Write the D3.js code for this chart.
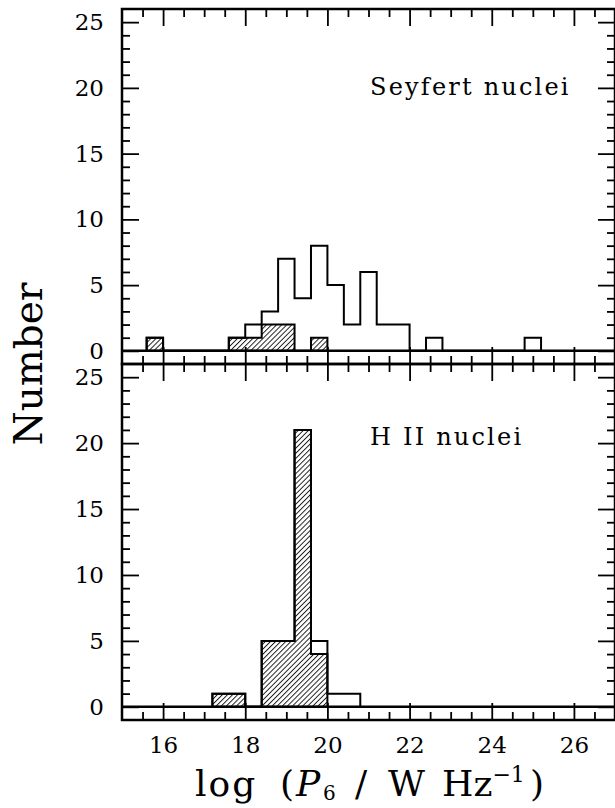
<!DOCTYPE html>
<html>
<head>
<meta charset="utf-8">
<script src="https://cdnjs.cloudflare.com/ajax/libs/d3/7.8.5/d3.min.js"></script>
<style>
  html, body { margin: 0; padding: 0; background: #fff; }
  svg { display: block; }
  text { font-family: "DejaVu Serif", serif; fill: #000; }
</style>
</head>
<body>
<div class="plot"></div>
<script>
// histogram bins: left edge of each 0.4-dex bin and the count in it
const binWidth = 0.4;

const seyfertAllX   = [15.6, 17.6, 18.0, 18.4, 18.8, 19.2, 19.6, 20.0, 20.4, 20.8, 21.2, 21.6, 22.4, 24.8];
const seyfertAllN   = [1,    1,    2,    3,    7,    4,    8,    5,    2,    6,    2,    2,    1,    1];
const seyfertHatchX = [15.6, 17.6, 18.0, 18.4, 18.8, 19.6];
const seyfertHatchN = [1,    1,    1,    2,    2,    1];

const hiiAllX   = [17.2, 17.6, 18.4, 18.8, 19.2, 19.6, 20.0, 20.4];
const hiiAllN   = [1,    1,    5,    5,    21,   5,    1,    1];
const hiiHatchX = [17.2, 17.6, 18.4, 18.8, 19.2, 19.6];
const hiiHatchN = [1,    1,    5,    5,    21,   4];

const xMajorTicks = [16, 18, 20, 22, 24, 26];
const xMinorTicks = [15.5, 16.5, 17, 17.5, 18.5, 19, 19.5, 20.5, 21, 21.5, 22.5, 23, 23.5, 24.5, 25, 25.5, 26.5];
const yMajorTicks = [0, 5, 10, 15, 20, 25];
const yMinorTicks = [1, 2, 3, 4, 6, 7, 8, 9, 11, 12, 13, 14, 16, 17, 18, 19, 21, 22, 23, 24];

const panelLabels = ["Seyfert nuclei", "H II nuclei"];

const width = 615, height = 808;
const left = 122, right = 615;

const svg = d3.select(".plot").append("svg")
    .attr("width", width)
    .attr("height", height);

// hatch pattern "/"
svg.append("defs").append("pattern")
    .attr("id", "hatch")
    .attr("patternUnits", "userSpaceOnUse")
    .attr("width", 3.6)
    .attr("height", 10)
    .attr("patternTransform", "rotate(45)")
    .append("line")
    .attr("x1", 0.5).attr("y1", 0)
    .attr("x2", 0.5).attr("y2", 10)
    .attr("stroke", "#000")
    .attr("stroke-width", 0.9);

const x = d3.scaleLinear().domain([15, 27]).range([left, right]);

// turn bin lists into step points, empty bins count 0
function steps(xs, ns) {
    const idx = xs.map(v => Math.round(v / binWidth));
    const lo = d3.min(idx), hi = d3.max(idx);
    const pts = [[lo * binWidth, 0]];
    for (let i = lo; i <= hi; i++) {
        const k = idx.indexOf(i);
        pts.push([i * binWidth, k < 0 ? 0 : ns[k]]);
    }
    pts.push([(hi + 1) * binWidth, 0]);
    return pts;
}

function panel(top, bottom, allX, allN, hatchX, hatchN, label, labelPos, showX) {
    const y = d3.scaleLinear().domain([-1, 26]).range([bottom, top]);
    const g = svg.append("g");

    // hatched histogram
    const area = d3.area().curve(d3.curveStepAfter)
        .x(d => x(d[0])).y0(y(0)).y1(d => y(d[1]));
    g.append("path")
        .datum(steps(hatchX, hatchN))
        .attr("d", area)
        .attr("fill", "url(#hatch)")
        .attr("stroke", "#000")
        .attr("stroke-width", 2);

    // open histogram
    const line = d3.line().curve(d3.curveStepAfter)
        .x(d => x(d[0])).y(d => y(d[1]));
    g.append("path")
        .datum(steps(allX, allN))
        .attr("d", line)
        .attr("fill", "none")
        .attr("stroke", "#000")
        .attr("stroke-width", 2);

    // zero line
    g.append("line")
        .attr("x1", left).attr("x2", right)
        .attr("y1", y(0)).attr("y2", y(0))
        .attr("stroke", "#000")
        .attr("stroke-width", 2.5);

    // ticks on all four sides, pointing inward
    const ax = [
        [d3.axisBottom(x).tickValues(xMajorTicks).tickSize(-17).tickPadding(17)
            .tickFormat(showX ? d3.format("d") : ""), "translate(0," + bottom + ")"],
        [d3.axisBottom(x).tickValues(xMinorTicks).tickSize(-8).tickFormat(""), "translate(0," + bottom + ")"],
        [d3.axisTop(x).tickValues(xMajorTicks).tickSize(-17).tickFormat(""), "translate(0," + top + ")"],
        [d3.axisTop(x).tickValues(xMinorTicks).tickSize(-8).tickFormat(""), "translate(0," + top + ")"],
        [d3.axisLeft(y).tickValues(yMajorTicks).tickSize(-17).tickPadding(18).tickFormat(d3.format("d")), "translate(" + left + ",0)"],
        [d3.axisLeft(y).tickValues(yMinorTicks).tickSize(-8).tickFormat(""), "translate(" + left + ",0)"],
        [d3.axisRight(y).tickValues(yMajorTicks).tickSize(-17).tickFormat(""), "translate(" + right + ",0)"],
        [d3.axisRight(y).tickValues(yMinorTicks).tickSize(-8).tickFormat(""), "translate(" + right + ",0)"]
    ];
    ax.forEach(a => {
        const s = g.append("g").attr("transform", a[1]).call(a[0]);
        s.select(".domain").remove();
        s.selectAll("line").attr("stroke", "#000").attr("stroke-width", 1.8);
        s.selectAll("text")
            .style("font-family", "'DejaVu Serif', serif")
            .style("font-size", "23px")
            .attr("fill", "#000");
    });

    // frame
    g.append("rect")
        .attr("x", left).attr("y", top)
        .attr("width", right - left).attr("height", bottom - top)
        .attr("fill", "none")
        .attr("stroke", "#000")
        .attr("stroke-width", 2.5);

    g.append("text")
        .attr("x", labelPos[0]).attr("y", labelPos[1])
        .attr("xml:space", "preserve")
        .style("font-size", "24px")
        .style("letter-spacing", "2.2px")
        .text(label);
}

panel(9, 364, seyfertAllX, seyfertAllN, seyfertHatchX, seyfertHatchN, panelLabels[0], [370, 95], false);
panel(364, 720, hiiAllX, hiiAllN, hiiHatchX, hiiHatchN, panelLabels[1], [370, 445], true);

// axis titles
svg.append("text")
    .attr("transform", "translate(42,364) rotate(-90)")
    .attr("text-anchor", "middle")
    .style("font-size", "39px")
    .text("Number");

const xt = svg.append("text")
    .attr("y", 796)
    .style("font-size", "36px");
xt.append("tspan").attr("x", 195).style("letter-spacing", "2px").text("log");
xt.append("tspan").attr("x", 280).text("(");
xt.append("tspan").attr("x", 296).style("font-style", "italic").text("P");
xt.append("tspan").attr("x", 323).attr("dy", 4).style("font-size", "20px").text("6");
xt.append("tspan").attr("x", 355).attr("dy", -4).text("/");
xt.append("tspan").attr("x", 388).text("W");
xt.append("tspan").attr("x", 442).text("Hz");
xt.append("tspan").attr("dy", -14).style("font-size", "22px").text("\u22121");
xt.append("tspan").attr("x", 530).attr("dy", 14).text(")");
</script>
</body>
</html>
